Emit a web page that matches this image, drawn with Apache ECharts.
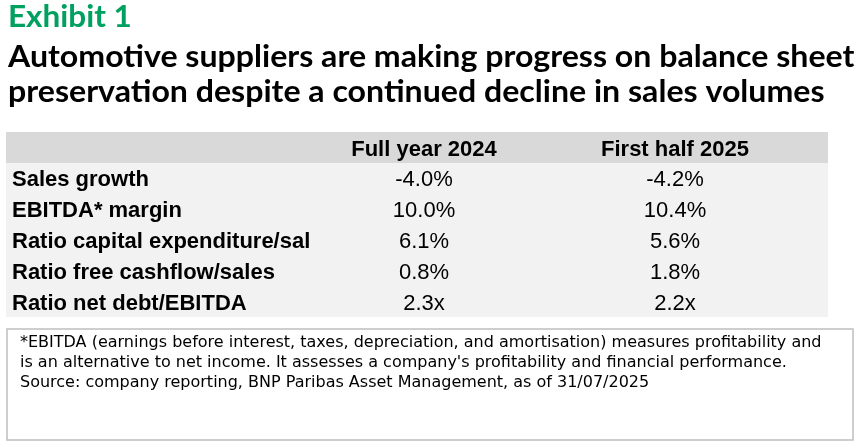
<!DOCTYPE html><html><head><meta charset="utf-8"><script src="https://cdn.jsdelivr.net/npm/echarts@6/dist/echarts.min.js"></script>
<style>html,body{margin:0;padding:0;background:#fff}#c{width:859px;height:448px}</style></head><body><div id="c"></div><script>
const columns = ["Full year 2024", "First half 2025"];
const rowLabels = ["Sales growth", "EBITDA* margin", "Ratio capital expenditure/sales", "Ratio free cashflow/sales", "Ratio net debt/EBITDA"];
const fullYear2024 = ["-4.0%", "10.0%", "6.1%", "0.8%", "2.3x"];
const firstHalf2025 = ["-4.2%", "10.4%", "5.6%", "1.8%", "2.2x"];
const footnote = ["*EBITDA (earnings before interest, taxes, depreciation, and amortisation) measures profitability and", "is an alternative to net income. It assesses a company's profitability and financial performance.", "Source: company reporting, BNP Paribas Asset Management, as of 31/07/2025"];
const chart = echarts.init(document.getElementById('c'));
const F = 'Liberation Sans, Arial, sans-serif';
const g = [];
g.push({type:'text',x:8,y:2,scaleX:1.05,style:{text:'Exhibit 1',font:'bold 30px Lato, sans-serif',fill:'#00a060'}});
g.push({type:'text',x:8,y:42,scaleX:1.07,style:{text:'Automotive suppliers are making progress on balance sheet',font:'bold 30px Lato, sans-serif',fill:'#000'}});
g.push({type:'text',x:8,y:77,scaleX:1.07,style:{text:'preservation despite a continued decline in sales volumes',font:'bold 30px Lato, sans-serif',fill:'#000'}});
g.push({type:'rect',shape:{x:6,y:132,width:822,height:31},style:{fill:'#d9d9d9'}});
g.push({type:'rect',shape:{x:6,y:163,width:822,height:154},style:{fill:'#f2f2f2'}});
const colX=[424,675];
columns.forEach((c,i)=>g.push({type:'text',x:colX[i],y:150,style:{text:c,font:'bold 22px '+F,fill:'#000',align:'center',verticalAlign:'middle'}}));
rowLabels.forEach((r,i)=>{
  const y=180+i*31;
  g.push({type:'text',x:12,y:y,style:{text:r,font:'bold 22px '+F,fill:'#000',verticalAlign:'middle',width:311,overflow:'truncate',ellipsis:''}});
  g.push({type:'text',x:colX[0],y:y,style:{text:fullYear2024[i],font:'22px '+F,fill:'#000',align:'center',verticalAlign:'middle'}});
  g.push({type:'text',x:colX[1],y:y,style:{text:firstHalf2025[i],font:'22px '+F,fill:'#000',align:'center',verticalAlign:'middle'}});
});
g.push({type:'rect',shape:{x:7,y:329,width:846,height:111},style:{fill:'none',stroke:'#bfbfbf',lineWidth:1.5}});
footnote.forEach((t,i)=>g.push({type:'text',x:20,y:335+i*20,style:{text:t,font:'16px "DejaVu Sans", sans-serif',fill:'#000'}}));
chart.setOption({animation:false,graphic:g});
</script></body></html>
